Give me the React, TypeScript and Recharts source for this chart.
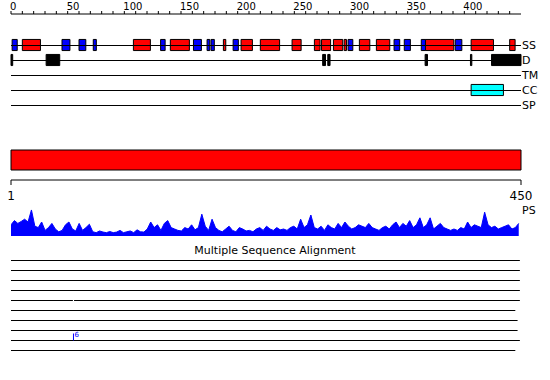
import React from "react";
import {
  ComposedChart,
  XAxis,
  YAxis,
  Area,
  ReferenceArea,
  ReferenceLine,
  ReferenceDot,
  Customized,
} from "recharts";

const FONT = "DejaVu Sans";

const rulerTicks = [
  0, 10, 20, 30, 40, 50, 60, 70, 80, 90, 100, 110, 120, 130, 140, 150, 160, 170, 180, 190, 200, 210,
  220, 230, 240, 250, 260, 270, 280, 290, 300, 310, 320, 330, 340, 350, 360, 370, 380, 390, 400, 410,
  420, 430, 440,
];
const trackNames = ["SS", "D", "TM", "CC", "SP"];

// secondary structure: helices (red) and strands (blue)
const helices: [number, number][] = [
  [10, 26], [108, 123], [140.6, 157.4], [187.4, 189.5], [203, 213], [220, 237], [248, 256],
  [267.7, 272.7], [274, 282], [284.5, 292.7], [294, 296], [307.4, 316.6], [322.4, 334.2],
  [365.7, 390.7], [406, 425.7], [440, 444.8],
];
const strands: [number, number][] = [
  [1, 5.5], [45, 52], [60, 66], [72.6, 75.3], [132, 136], [161, 168], [173, 175.4], [176.5, 179.4],
  [196, 200.6], [297.4, 301.6], [338, 343], [347, 352.4], [362, 365.7], [392, 397.8],
];
const disorder: [number, number][] = [
  [0, 1.5], [31, 43], [275, 277.5], [279.5, 281.5], [365.4, 367.5], [405.4, 406.6], [424, 450],
];
const coiledCoil: [number, number][] = [[406, 434.5]];

const seqLength = 450;
const psStep = 3;
const psValues = [
  40, 55, 45, 52, 60, 50, 93, 35, 30, 50,
  20, 30, 45, 25, 15, 20, 40, 50, 25, 18,
  45, 20, 30, 42, 15, 12, 18, 14, 12, 16,
  12, 14, 20, 12, 15, 18, 12, 22, 15, 14,
  25, 50, 30, 40, 20, 45, 55, 30, 25, 20,
  18, 30, 25, 40, 22, 30, 78, 35, 20, 60,
  30, 20, 15, 25, 35, 20, 15, 30, 25, 18,
  20, 15, 25, 30, 20, 35, 25, 20, 30, 22,
  25, 20, 30, 35, 25, 60, 30, 40, 75, 30,
  25, 35, 20, 40, 30, 25, 45, 30, 50, 35,
  25, 30, 40, 35, 30, 45, 30, 25, 20, 30,
  35, 25, 40, 50, 30, 45, 35, 55, 30, 40,
  65, 30, 40, 65, 25, 35, 45, 30, 25, 20,
  25, 20, 30, 25, 50, 30, 40, 35, 30, 85,
  40, 30, 35, 25, 30, 35, 40, 25, 30, 45,
];
const psData = psValues.map((v, i) => ({ pos: 1 + i * psStep, ps: v }));

// multiple sequence alignment coverage, one list of segments per row
const msaRows: [number, number][][] = [
  [[1, 449]],
  [[1, 449]],
  [[1, 449]],
  [[1, 449]],
  [[1, 55.5], [56.5, 449]],
  [[1, 445]],
  [[1, 447]],
  [[1, 447]],
  [[1, 449]],
  [[1, 445]],
];
const msaMarks = [{ row: 9, pos: 56, label: "6" }];

const RulerTick = (p: any) => {
  const v = p.payload.value;
  if (v % 50 !== 0) return <g />;
  return (
    <text x={p.x - 1} y={10} fontSize={10} fontFamily={FONT} textAnchor="start" fill="#000">
      {v}
    </text>
  );
};

const TrackTick = (p: any) => (
  <text x={p.x} y={p.y + 4} fontSize={11} fontFamily={FONT} textAnchor="start" fill="#000">
    {trackNames[p.payload.value - 1]}
  </text>
);

const EndTick = (p: any) => (
  <text x={p.x} y={p.y + 13} fontSize={12} fontFamily={FONT} textAnchor="middle" fill="#000">
    {p.payload.value}
  </text>
);

export default function App() {
  const box = (r: [number, number], row: number, fill: string, key: string) => (
    <ReferenceArea
      key={key}
      x1={r[0]}
      x2={r[1]}
      y1={row - 0.37}
      y2={row + 0.37}
      fill={fill}
      fillOpacity={1}
      stroke="#000"
      strokeWidth={1}
      ifOverflow="visible"
    />
  );

  return (
    <div style={{ position: "absolute", left: 0, top: 0, width: 550, height: 380, background: "#fff" }}>
      {/* feature tracks */}
      <div style={{ position: "absolute", left: 0, top: 0 }}>
        <ComposedChart width={550} height={115} margin={{ top: 0, right: 0, bottom: 0, left: 11 }} data={psData}>
          <XAxis
            type="number"
            dataKey="pos"
            domain={[0, seqLength]}
            orientation="top"
            height={14}
            ticks={rulerTicks}
            interval={0}
            tickSize={3}
            tick={RulerTick}
            stroke="#000"
            allowDataOverflow
          />
          <YAxis
            orientation="right"
            width={29}
            type="number"
            dataKey="ps"
            domain={[1, 5]}
            allowDataOverflow
            reversed
            padding={{ top: 31, bottom: 10 }}
            ticks={[1, 2, 3, 4, 5]}
            interval={0}
            tickSize={0}
            tickMargin={1}
            axisLine={false}
            tickLine={false}
            tick={TrackTick}
          />
          {trackNames.map((n, i) => (
            <ReferenceLine
              key={n}
              y={i + 1}
              stroke="#000"
              strokeWidth={1}
              shapeRendering="crispEdges"
              ifOverflow="visible"
            />
          ))}
          {helices.map((r, i) => box(r, 1, "#ff0000", "h" + i))}
          {strands.map((r, i) => box(r, 1, "#0000ff", "s" + i))}
          {disorder.map((r, i) => box(r, 2, "#000000", "d" + i))}
          {coiledCoil.map((r, i) => box(r, 4, "#00ffff", "c" + i))}
        </ComposedChart>
      </div>

      {/* whole-sequence bar and ruler */}
      <div style={{ position: "absolute", left: 0, top: 140 }}>
        <ComposedChart width={550} height={62} margin={{ top: 10, right: 29, bottom: 0, left: 11 }} data={psData}>
          <XAxis
            type="number"
            dataKey="pos"
            domain={[1, seqLength]}
            allowDataOverflow
            height={22}
            ticks={[1, seqLength]}
            interval={0}
            tickSize={5}
            tick={EndTick}
            stroke="#000"
          />
          <YAxis
            hide
            type="number"
            dataKey="ps"
            domain={[0, 1]}
            allowDataOverflow
            padding={{ top: 0, bottom: 10 }}
          />
          <ReferenceArea
            x1={1}
            x2={seqLength}
            y1={0}
            y2={1}
            fill="#ff0000"
            fillOpacity={1}
            stroke="#000"
            strokeWidth={1}
            ifOverflow="visible"
          />
        </ComposedChart>
      </div>

      {/* PS profile */}
      <div style={{ position: "absolute", left: 0, top: 200 }}>
        <ComposedChart width={550} height={40} margin={{ top: 8, right: 29, bottom: 4, left: 11 }} data={psData}>
          <XAxis hide type="number" dataKey="pos" domain={[1, seqLength]} allowDataOverflow />
          <YAxis hide type="number" domain={[0, 100]} allowDataOverflow />
          <Area
            type="linear"
            dataKey="ps"
            stroke="#0000ff"
            strokeWidth={1}
            fill="#0000ff"
            fillOpacity={1}
            isAnimationActive={false}
          />
          <Customized
            component={() => (
              <text x={522} y={14} fontSize={11} fontFamily={FONT} fill="#000">
                PS
              </text>
            )}
          />
        </ComposedChart>
      </div>

      {/* multiple sequence alignment */}
      <div style={{ position: "absolute", left: 0, top: 240 }}>
        <ComposedChart width={550} height={120} margin={{ top: 20.5, right: 29, bottom: 9.5, left: 11 }} data={psData}>
          <XAxis hide type="number" dataKey="pos" domain={[1, seqLength]} allowDataOverflow />
          <YAxis hide type="number" dataKey="ps" domain={[1, 10]} allowDataOverflow reversed />
          <Customized
            component={() => (
              <text x={275} y={14} fontSize={11} fontFamily={FONT} textAnchor="middle" fill="#000">
                Multiple Sequence Alignment
              </text>
            )}
          />
          {msaRows.map((segs, ri) =>
            segs.map((s, si) => (
              <ReferenceLine
                key={ri + "-" + si}
                segment={[
                  { x: s[0], y: ri + 1 },
                  { x: s[1], y: ri + 1 },
                ]}
                stroke="#000"
                strokeWidth={1}
                ifOverflow="visible"
              />
            ))
          )}
          {msaMarks.map((m, i) => (
            <ReferenceLine
              key={"m" + i}
              segment={[
                { x: m.pos, y: m.row - 0.7 },
                { x: m.pos, y: m.row },
              ]}
              stroke="#0000ff"
              strokeWidth={1}
              ifOverflow="visible"
            />
          ))}
          {msaMarks.map((m, i) => (
            <ReferenceDot
              key={"ml" + i}
              x={m.pos}
              y={m.row - 0.55}
              r={0}
              stroke="none"
              ifOverflow="visible"
              label={{ value: m.label, position: "right", offset: 1, fill: "#0000ff", fontSize: 7, fontFamily: FONT }}
            />
          ))}
        </ComposedChart>
      </div>
    </div>
  );
}
